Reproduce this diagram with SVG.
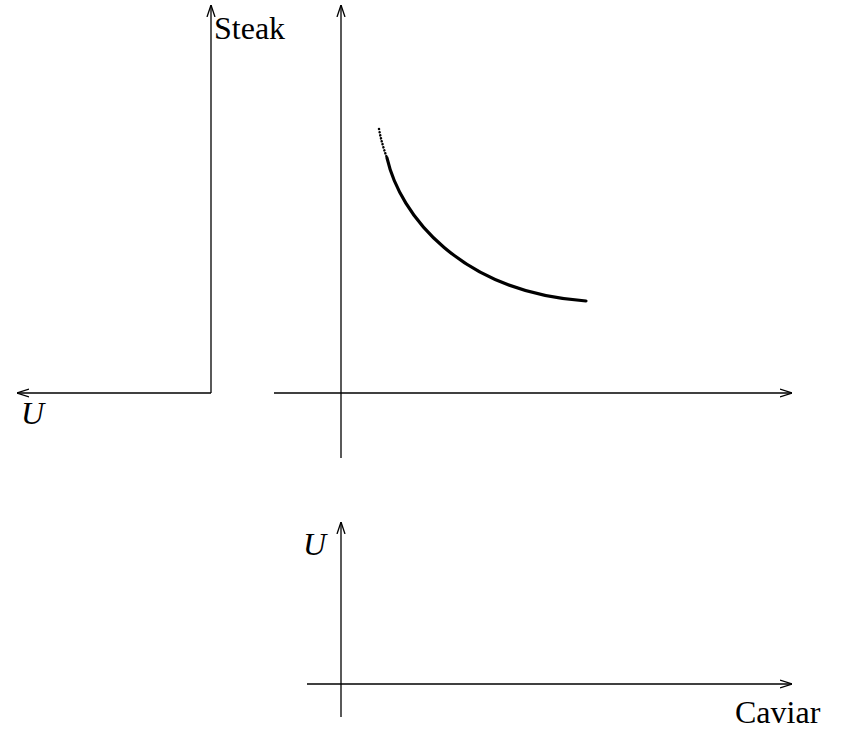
<svg xmlns="http://www.w3.org/2000/svg" width="844" height="729" viewBox="0 0 844 729">
<defs>
<style>
.ax{stroke:#000;stroke-width:1.3;fill:none;marker-end:url(#ah)}
.t{font-family:"Liberation Serif","Times New Roman",serif;font-size:32px;fill:#000}
.i{font-style:italic}
</style>
<marker id="ah" viewBox="0 0 12 10" refX="12" refY="5" markerWidth="12" markerHeight="10" markerUnits="userSpaceOnUse" orient="auto">
<path d="M0,1 L12,5 L0,9" fill="none" stroke="#000" stroke-width="1.3"/>
</marker>
</defs>
<rect width="844" height="729" fill="#fff"/>
<g id="connectors">
<line class="ax" x1="211" y1="393" x2="211" y2="5"/>
<line class="ax" x1="211" y1="393" x2="17" y2="393"/>
<line class="ax" x1="341" y1="458" x2="341" y2="5"/>
<line class="ax" x1="274" y1="393" x2="792" y2="393"/>
<line class="ax" x1="341" y1="717" x2="341" y2="522"/>
<line class="ax" x1="307" y1="684" x2="792" y2="684"/>
</g>
<g id="curve">
<path d="M379,129 C381,140 384,150 387,158" fill="none" stroke="#000" stroke-width="2.5" stroke-dasharray="0.1 3" stroke-linecap="round"/>
<path d="M387,158 C400,215 460,292 586,301" fill="none" stroke="#000" stroke-width="3.2" stroke-linecap="round"/>
</g>
<g id="labels">
<text class="t" x="214" y="39">Steak</text>
<text class="t i" x="21" y="424">U</text>
<text class="t i" x="303" y="555">U</text>
<text class="t" x="735" y="723">Caviar</text>
</g>
</svg>
